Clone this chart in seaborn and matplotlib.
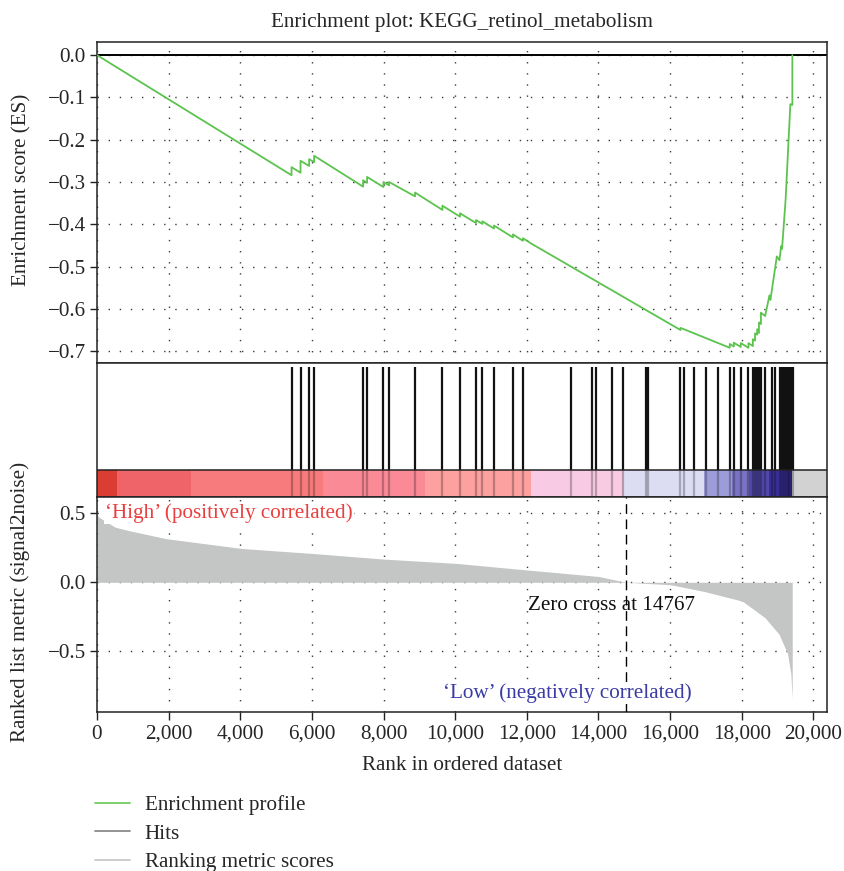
import numpy as np
import pandas as pd
import matplotlib
matplotlib.use("Agg")
import matplotlib.pyplot as plt
from matplotlib.lines import Line2D
import seaborn as sns

# ---------------- data ----------------
title = "Enrichment plot: KEGG_retinol_metabolism"

# running enrichment score: vertices (rank, ES)
es_rank = [0, 5431, 5431, 5682, 5682, 5922, 5922, 6061, 6061,
           7428, 7428, 7540, 7540, 7997, 7997, 8153, 8153, 8879, 8879,
           9643, 9643, 10134, 10134, 10580, 10580, 10759, 10759,
           11083, 11083, 11612, 11612, 11891, 11891, 12111,
           16290, 16290, 16382, 17665, 17665, 17777, 17777, 17972, 17972,
           18187, 18187, 18310, 18310, 18370, 18370, 18430, 18430,
           18480, 18480, 18535, 18535, 18652, 18774, 18800, 18979, 19053,
           19100, 19125, 19225, 19357, 19413, 19413]
es_val = [0.0, -0.284, -0.265, -0.278, -0.250, -0.262, -0.246, -0.253, -0.238,
          -0.311, -0.296, -0.302, -0.288, -0.312, -0.300, -0.308, -0.300, -0.334, -0.325,
          -0.366, -0.356, -0.382, -0.374, -0.397, -0.390, -0.399, -0.393,
          -0.410, -0.403, -0.431, -0.424, -0.439, -0.433, -0.445,
          -0.650, -0.645, -0.648, -0.692, -0.683, -0.689, -0.680, -0.690, -0.681,
          -0.692, -0.681, -0.688, -0.672, -0.675, -0.658, -0.661, -0.648,
          -0.657, -0.632, -0.636, -0.609, -0.617, -0.568, -0.579, -0.476, -0.485,
          -0.452, -0.458, -0.341, -0.116, -0.118, 0.0]

# gene-set hits (rank positions)
hits = [5431, 5682, 5922, 6061, 7428, 7540, 7997, 8153, 8879, 9643, 10134,
        10580, 10759, 11083, 11612, 11891, 13222, 13816, 13928, 14366, 14681,
        15314, 15390, 16290, 16382, 16661, 16996, 17331, 17665, 17777, 17972,
        18187, 18310, 18370, 18430, 18480, 18535, 18641, 18837,
        18921, 19079, 19130, 19180, 19238, 19283, 19330, 19380, 19423]

# ranked list metric (signal2noise): points (rank, value)
metric_rank = [0, 60, 220, 500, 880, 1930, 4040, 6010, 8010, 10030, 12010,
               14010, 14767, 16020, 16940, 18020, 18650, 19040, 19280, 19370,
               19400, 19410]
metric_val = [0.49, 0.47, 0.445, 0.40, 0.375, 0.316, 0.245, 0.209, 0.168,
              0.137, 0.089, 0.042, 0.0, -0.018, -0.066, -0.137, -0.257,
              -0.376, -0.519, -0.662, -0.80, -0.84]
zero_cross = 14767

# colour bar segments (rank boundaries and colours)
cb_edges = [0, 550, 2622, 6304, 9149, 12106, 14708, 16960, 17741, 18215,
            18773, 19410]
cb_colors = ["#dc3d33", "#ee6468", "#f77b7c", "#fb8a97", "#fca1a0",
             "#f8cae4", "#dcdcf3", "#9c9cd8", "#7a73c4", "#5149a9", "#3a2e97"]

x_ticks = list(range(0, 20001, 2000))
es_ticks = [0.0, -0.1, -0.2, -0.3, -0.4, -0.5, -0.6, -0.7]
metric_ticks = [0.5, 0.0, -0.5]

legend_labels = ["Enrichment profile", "Hits", "Ranking metric scores"]

# ---------------- styling ----------------
sns.set_theme(style="white")
plt.rcParams["font.family"] = ["Liberation Serif", "DejaVu Serif"]
plt.rcParams["axes.unicode_minus"] = True

W, H = 845, 871
fig = plt.figure(figsize=(W / 100, H / 100), dpi=100)


def rect(l, t, r, b):
    return [l / W, 1 - b / H, (r - l) / W, (b - t) / H]


ax1 = fig.add_axes(rect(97, 42, 827, 363))
ax2 = fig.add_axes(rect(97, 363, 827, 497))
ax3 = fig.add_axes(rect(97, 497, 827, 712))

XMAX = 20380
FS = 15.2
grid_kw = dict(color="#3a3a3a", linestyle=(0, (1, 7)), linewidth=1.0)
spine_c = "#222222"

for ax in (ax1, ax2, ax3):
    ax.set_xlim(0, XMAX)
    for s in ax.spines.values():
        s.set_color(spine_c)
        s.set_linewidth(1.1)
    ax.set_facecolor("white")

# ---- top: enrichment profile ----
ax1.set_ylim(-0.728, 0.031)
ax1.set_xticks(x_ticks)
ax1.set_yticks(es_ticks)
ax1.set_yticklabels([f"{v:.1f}".replace("-", "\u2212") for v in es_ticks])
ax1.grid(True, **grid_kw)
ax1.set_axisbelow(True)
ax1.tick_params(axis="x", bottom=False, labelbottom=False)
ax1.tick_params(axis="y", left=True, direction="out", length=5, width=1,
                color=spine_c, labelsize=FS, pad=3)
ax1.axhline(0, color="black", lw=1.4, zorder=2)
es_df = pd.DataFrame({"rank": es_rank, "es": es_val})
sns.lineplot(data=es_df, x="rank", y="es", estimator=None, sort=False,
             color="#5cc34f", lw=1.3, ax=ax1, zorder=3)
ax1.set_xlabel("")
ax1.set_ylabel("")
ax1.set_title(title, fontsize=FS, pad=11)

# ---- middle: hits + colour bar ----
CB_TOP = 0.2015
ax2.set_ylim(0, 1)
ax2.set_xticks([])
ax2.set_yticks([])
ax2.axhspan(0, CB_TOP, color="#d2d2d2", lw=0, zorder=0)
starts = cb_edges[:-1]
widths = np.diff(cb_edges)
ax2.bar(starts, [CB_TOP] * len(starts), width=widths, align="edge",
        color=cb_colors, linewidth=0, zorder=1)
ax2.vlines(hits, CB_TOP, 0.972, color="#111111", lw=1.6, zorder=2)
ax2.vlines(hits, 0, CB_TOP, color="black", lw=1.6, alpha=0.25, zorder=2)
ax2.axhline(CB_TOP, color=spine_c, lw=1.1, zorder=3)

# ---- bottom: ranked list metric ----
ax3.set_ylim(-0.94, 0.618)
ax3.set_xticks(x_ticks)
ax3.set_xticklabels([f"{v:,}" for v in x_ticks])
ax3.set_yticks(metric_ticks)
ax3.set_yticklabels([f"{v:.1f}".replace("-", "\u2212") for v in metric_ticks])
ax3.grid(True, **grid_kw)
ax3.set_axisbelow(True)
ax3.tick_params(axis="x", bottom=True, direction="out", length=6, width=1,
                color=spine_c, labelsize=FS, pad=3)
ax3.tick_params(axis="y", left=True, direction="out", length=5, width=1,
                color=spine_c, labelsize=FS, pad=3)
ax3.fill_between(metric_rank, metric_val, 0, color="#c4c6c5", lw=0, zorder=2)
ax3.axvline(zero_cross, color="black", lw=1.0, ls=(0, (7, 4)), zorder=3)
ax3.text(zero_cross - 400, -0.165, f"Zero cross at {zero_cross}",
         ha="center", va="center", fontsize=FS, color="#111111", zorder=4)
ax3.text(0.011, 0.926, "\u2018High\u2019 (positively correlated)",
         transform=ax3.transAxes, ha="left", va="center", fontsize=FS,
         color="#e8403e", zorder=4,
         bbox=dict(facecolor="white", edgecolor="none", pad=1))
ax3.text(0.644, 0.088, "\u2018Low\u2019 (negatively correlated)",
         transform=ax3.transAxes, ha="center", va="center", fontsize=FS,
         color="#3b3ba6", zorder=4,
         bbox=dict(facecolor="white", edgecolor="none", pad=1))
ax3.set_xlabel("Rank in ordered dataset", fontsize=FS, labelpad=9)

fig.text(22 / W, 1 - 190 / H, "Enrichment score (ES)", rotation=90,
         ha="center", va="center", fontsize=FS)
fig.text(20 / W, 1 - 602 / H, "Ranked list metric (signal2noise)",
         rotation=90, ha="center", va="center", fontsize=FS)

handles = [Line2D([], [], color="#6fd060", lw=1.3),
           Line2D([], [], color="#8a8a8a", lw=1.3),
           Line2D([], [], color="#c8c8c8", lw=1.3)]
fig.legend(handles, legend_labels, loc="upper left",
           bbox_to_anchor=(91 / W, 1 - 791 / H), frameon=False,
           fontsize=FS, handlelength=1.65, handletextpad=0.7,
           labelspacing=0.42, borderaxespad=0, borderpad=0.2)

fig.savefig("out.png", dpi=100)
